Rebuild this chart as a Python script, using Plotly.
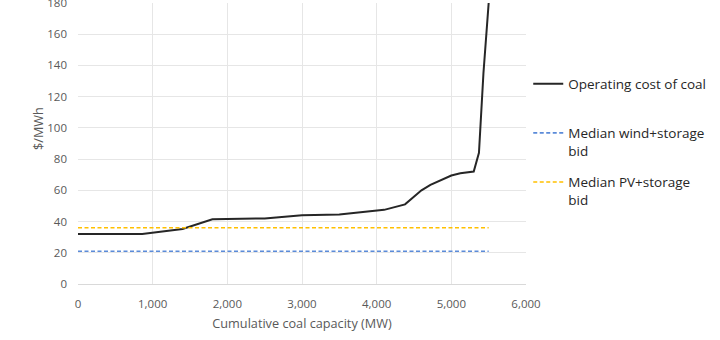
import plotly.graph_objects as go

# Cumulative coal capacity (MW) and operating cost ($/MWh)
capacity_mw = [0, 860, 1400, 1800, 2500, 3000, 3500, 4000, 4100, 4380, 4600, 4720, 5000,
               5120, 5300, 5370, 5430, 5500]
coal_cost = [32, 32, 35.2, 41.5, 42, 44, 44.5, 46.6, 47.5, 51, 60, 63.5, 69.5,
             71, 72, 84, 135, 180]

# Median storage-paired bids ($/MWh), drawn across the coal capacity range
bid_extent = [0, 5500]
wind_storage_bid = [21, 21]
pv_storage_bid = [36, 36]

x_ticks = [0, 1000, 2000, 3000, 4000, 5000, 6000]
x_tick_text = ["0", "1,000", "2,000", "3,000", "4,000", "5,000", "6,000"]
y_ticks = [0, 20, 40, 60, 80, 100, 120, 140, 160, 180]

text_color = "#595959"
font_family = "Open Sans, Liberation Sans, sans-serif"

fig = go.Figure()
# The blank second line keeps the legend entries evenly spaced
fig.add_trace(go.Scatter(
    x=capacity_mw, y=coal_cost, mode="lines", name="Operating cost of coal<br> ",
    line=dict(color="#262626", width=2), legendgroup="a"))
fig.add_trace(go.Scatter(
    x=bid_extent, y=wind_storage_bid, mode="lines", name="Median wind+storage<br>bid",
    line=dict(color="#5B8BD9", width=1.6, dash="4px,2.5px"), legendgroup="b"))
fig.add_trace(go.Scatter(
    x=bid_extent, y=pv_storage_bid, mode="lines", name="Median PV+storage<br>bid",
    line=dict(color="#FFC000", width=1.6, dash="4px,2.5px"), legendgroup="c"))

fig.update_layout(
    width=720, height=340,
    margin=dict(l=78, r=194, t=3, b=56, autoexpand=False),
    paper_bgcolor="white", plot_bgcolor="white",
    font=dict(family=font_family, color=text_color, size=11.5),
    showlegend=True,
    legend=dict(x=1.005, y=0.767, xanchor="left", yanchor="top",
                font=dict(size=13.5, color="#262626"),
                tracegroupgap=11, valign="top", itemwidth=30),
    xaxis=dict(range=[0, 6000], tickvals=x_ticks, ticktext=x_tick_text,
               showgrid=True, gridcolor="#e6e6e6", gridwidth=1,
               showline=True, linecolor="#d9d9d9", zeroline=False,
               automargin=False,
               ticks="", ticklabelstandoff=9, ticklabeloverflow="allow",
               title=dict(text="Cumulative coal capacity (MW)", font=dict(size=12.7),
                          standoff=9)),
    yaxis=dict(range=[0, 180], tickvals=y_ticks,
               showgrid=True, gridcolor="#e6e6e6", gridwidth=1,
               showline=False, zeroline=False, ticks="",
               automargin=False,
               ticklabelstandoff=10, ticklabeloverflow="allow"),
    annotations=[dict(text="$/MWh", textangle=-90, showarrow=False,
                      xref="paper", yref="paper", x=-0.089, y=0.552,
                      xanchor="center", yanchor="middle",
                      font=dict(size=12.7, color=text_color))],
)

fig.write_html("out.html")
